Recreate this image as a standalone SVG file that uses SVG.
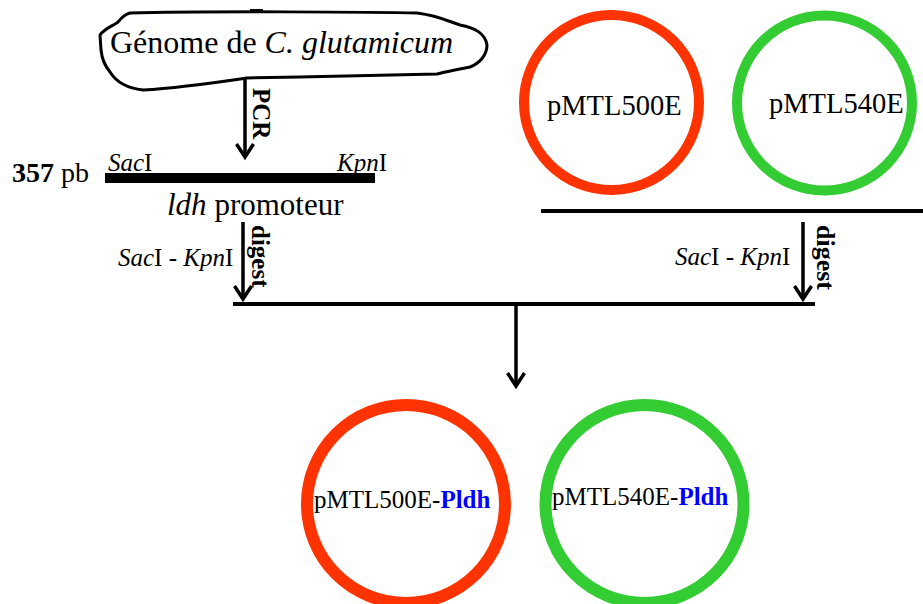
<svg xmlns="http://www.w3.org/2000/svg" width="923" height="604" viewBox="0 0 923 604">
<style>
text{font-family:"Liberation Serif","Times New Roman",serif;fill:#000}
.i{font-style:italic}
.b{font-weight:bold}
.ln{stroke:#000;stroke-width:3.5;fill:none}
.ah{stroke:#000;stroke-width:3.5;fill:none;stroke-linejoin:miter}
.red{fill:none;stroke:#FF3300}
.grn{fill:none;stroke:#33CC33}
.blue{fill:#0000FF;font-weight:bold}
</style>
<rect width="923" height="604" fill="#fff"/>

<g id="genome">
<path d="M130,13 C200,11 380,12 417,13 C440,16 450,22 460,25 C475,28 485,33 487,45 C487,55 480,63 470,67 C455,70 445,72 437,74 L300,77 L247,78 C220,82 180,88 143,90 C125,88 115,80 110,72 C105,66 102,60 101,50 L100,35 C105,28 115,25 118,22 C122,17 126,14 130,13 Z" fill="#fff" stroke="#000" stroke-width="3"/>
<line x1="250" y1="11" x2="263" y2="11" stroke="#000" stroke-width="4"/>
<text x="110" y="53" font-size="32">Génome de <tspan class="i">C. glutamicum</tspan></text>
</g>

<g id="ldh-fragment">
<text x="12" y="182" font-size="28"><tspan class="b">357</tspan> pb</text>
<rect x="105" y="173" width="270" height="10" fill="#000"/>
<text x="108" y="171" font-size="25"><tspan class="i">Sac</tspan>I</text>
<text x="337" y="171" font-size="25"><tspan class="i">Kpn</tspan>I</text>
<text x="167" y="215" font-size="31"><tspan class="i">ldh</tspan> promoteur</text>
</g>

<g id="pMTL500E">
<circle class="red" cx="611.5" cy="102.5" r="87.5" stroke-width="10"/>
<text x="547" y="115" font-size="28.5">pMTL500E</text>
</g>

<g id="pMTL540E">
<circle class="grn" cx="824.5" cy="103" r="87.5" stroke-width="10"/>
<text x="769" y="113" font-size="28.5">pMTL540E</text>
</g>

<g id="pMTL500E-Pldh">
<circle class="red" cx="406" cy="504" r="99" stroke-width="12"/>
<text x="314" y="508" font-size="25">pMTL500E-<tspan class="blue">Pldh</tspan></text>
</g>

<g id="pMTL540E-Pldh">
<circle class="grn" cx="644.5" cy="504" r="99" stroke-width="12"/>
<text x="552" y="505" font-size="25">pMTL540E-<tspan class="blue">Pldh</tspan></text>
</g>

<g id="connectors">
<line class="ln" x1="245" y1="77" x2="245" y2="157"/>
<polyline class="ah" points="236.5,144 245,157 253.5,144"/>
<text transform="translate(253,88) rotate(90)" font-size="25" class="b">PCR</text>
<line class="ln" x1="243" y1="222" x2="243" y2="299"/>
<polyline class="ah" points="234.5,286 243,299 251.5,286"/>
<text x="118" y="266" font-size="25"><tspan class="i">Sac</tspan>I - <tspan class="i">Kpn</tspan>I</text>
<text transform="translate(252,225) rotate(90)" font-size="25" class="b">digest</text>
<line x1="541" y1="211" x2="923" y2="211" stroke="#000" stroke-width="4"/>
<line class="ln" x1="803" y1="222" x2="803" y2="299"/>
<polyline class="ah" points="794.5,286 803,299 811.5,286"/>
<text x="675" y="265" font-size="25"><tspan class="i">Sac</tspan>I - <tspan class="i">Kpn</tspan>I</text>
<text transform="translate(817,225) rotate(90)" font-size="26" class="b">digest</text>
<line x1="233" y1="304" x2="815" y2="304" stroke="#000" stroke-width="4"/>
<line class="ln" x1="516" y1="304" x2="516" y2="386"/>
<polyline class="ah" points="507.5,373 516,386 524.5,373"/>
</g>
</svg>
